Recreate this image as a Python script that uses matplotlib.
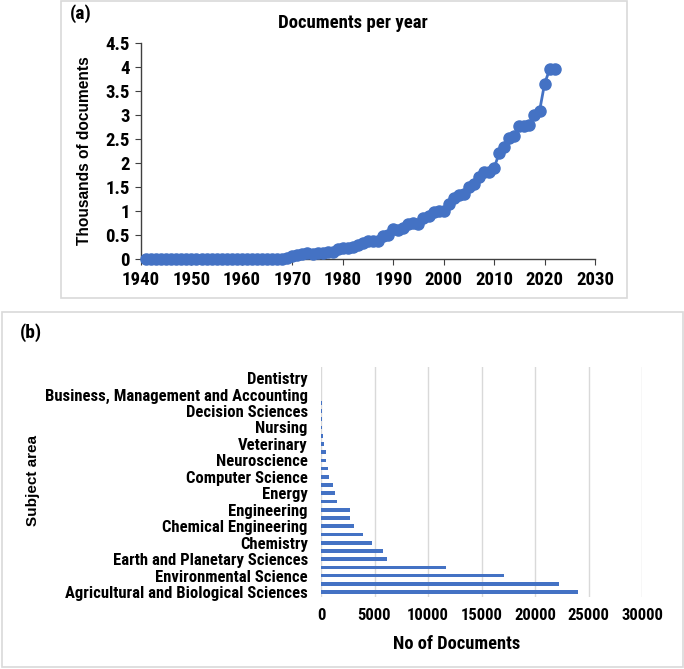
import matplotlib
matplotlib.use("Agg")
import matplotlib.pyplot as plt
from matplotlib.patches import Rectangle
from matplotlib import font_manager
from matplotlib.font_manager import FontProperties

# ---------------- data ----------------
years = list(range(1941, 2023))
docs_thousands = [0.0] * 27 + [  # 1941-1967
    0.01, 0.03, 0.06, 0.09, 0.11, 0.12, 0.10, 0.12, 0.13, 0.14, 0.15,  # 1968-1978
    0.20, 0.22, 0.22, 0.25, 0.30, 0.33, 0.37, 0.38, 0.38, 0.47, 0.50,  # 1979-1989
    0.62, 0.60, 0.65, 0.72, 0.75, 0.73, 0.85, 0.90, 0.97, 1.00, 1.00,  # 1990-2000
    1.15, 1.28, 1.33, 1.35, 1.50, 1.57, 1.70, 1.82, 1.82, 1.90,        # 2001-2010
    2.20, 2.33, 2.53, 2.57, 2.77, 2.77, 2.80, 3.00, 3.08, 3.65, 3.95, 3.95,  # 2011-2022
]
x_ticks_a = [1940, 1950, 1960, 1970, 1980, 1990, 2000, 2010, 2020, 2030]
y_ticks_a = [0, 0.5, 1, 1.5, 2, 2.5, 3, 3.5, 4, 4.5]
y_tick_labels_a = ["0", "0.5", "1", "1.5", "2", "2.5", "3", "3.5", "4", "4.5"]

subject_docs = [24000, 22200, 17100, 11650, 6200, 5800, 4800, 3950, 3100, 2750,
                2700, 1450, 1300, 1100, 750, 650, 500, 500, 250, 160,
                120, 90, 80, 50, 30, 15, 5]
subject_labels = ["Agricultural and Biological Sciences", "Environmental Science",
                  "Earth and Planetary Sciences", "Chemistry", "Chemical Engineering",
                  "Engineering", "Energy", "Computer Science", "Neuroscience",
                  "Veterinary", "Nursing", "Decision Sciences",
                  "Business, Management and Accounting", "Dentistry"]
x_ticks_b = [0, 5000, 10000, 15000, 20000, 25000, 30000]

# ---------------- fonts ----------------
def find_font():
    files = [f.fname for f in font_manager.fontManager.ttflist]
    prefs = ["LiberationSansNarrow-Bold.", "RobotoCondensed-Bold.", "DejaVuSansCondensed-Bold.",
             "OpenSansCondensed-Bold.", "OpenSans_Condensed-Bold."]
    for p in prefs:
        for fn in files:
            if fn.split("/")[-1].startswith(p):
                return fn
    for fn in files:
        base = fn.split("/")[-1].lower()
        if ("condensed" in base or "narrow" in base) and "bold" in base and "italic" not in base:
            return fn
    return None

narrow_file = find_font()

def nfont(size):
    if narrow_file:
        return FontProperties(fname=narrow_file, size=size)
    return FontProperties(family=["Liberation Sans", "DejaVu Sans"], weight="bold", size=size * 0.85)

def wfont(size):
    return FontProperties(family=["Liberation Sans", "DejaVu Sans"], weight="bold", size=size)

blue = "#4472C4"
W, H = 684, 669
fig = plt.figure(figsize=(W / 100, H / 100), dpi=100)

def fx(px):
    return px / W

def fy(py):
    return 1 - py / H

# frames
fig.patches.append(Rectangle((fx(61), fy(298)), fx(627) - fx(61), fy(1) - fy(298),
                             transform=fig.transFigure, fill=False, ec="#D9D9D9", lw=1.2))
fig.patches.append(Rectangle((fx(2), fy(667)), fx(683) - fx(2), fy(312) - fy(667),
                             transform=fig.transFigure, fill=False, ec="#D9D9D9", lw=1.2))

# ---------------- panel (a) ----------------
ax1 = fig.add_axes([fx(141), fy(259), fx(595) - fx(141), fy(43) - fy(259)])
ax1.plot(years, docs_thousands, color=blue, lw=2, marker="o", ms=8, zorder=3, clip_on=False)
ax1.set_xlim(1940, 2030)
ax1.set_ylim(0, 4.5)
ax1.set_xticks(x_ticks_a)
ax1.set_yticks(y_ticks_a)
ax1.set_yticklabels(y_tick_labels_a)
for s in ["top", "right"]:
    ax1.spines[s].set_visible(False)
for s in ["left", "bottom"]:
    ax1.spines[s].set_color("#404040")
    ax1.spines[s].set_linewidth(1)
    ax1.spines[s].set_zorder(2)
ax1.tick_params(axis="both", length=4, color="#404040", direction="out")
ax1.tick_params(axis="x", pad=4.5)
ax1.tick_params(axis="y", pad=4)
for lab in ax1.get_xticklabels() + ax1.get_yticklabels():
    lab.set_fontproperties(nfont(13.5))
ax1.set_ylabel("Thousands of documents", fontproperties=wfont(11.2), labelpad=10)
fig.text(fx(353), fy(23), "Documents per year", ha="center", va="center",
         fontproperties=nfont(13.5))
fig.text(fx(70), fy(14), "(a)", ha="left", va="center", fontproperties=nfont(14))

# ---------------- panel (b) ----------------
ax2 = fig.add_axes([fx(321), fy(597), fx(642) - fx(321), fy(367) - fy(597)])
pos = list(range(len(subject_docs)))
ax2.barh(pos, subject_docs, height=0.45, color=blue, zorder=3)
ax2.set_xlim(0, 30000)
ax2.set_ylim(-0.6, 27.35)
ax2.set_xticks(x_ticks_b)
ax2.set_xticklabels([str(v) for v in x_ticks_b])
ax2.set_yticks(pos[::2])
ax2.set_yticklabels(subject_labels)
for s in ax2.spines.values():
    s.set_visible(False)
ax2.grid(axis="x", color="#D9D9D9", lw=1, zorder=0)
ax2.tick_params(axis="both", length=0)
ax2.tick_params(axis="y", pad=9.5)
ax2.tick_params(axis="x", pad=8)
for lab in ax2.get_xticklabels() + ax2.get_yticklabels():
    lab.set_fontproperties(nfont(12))
fig.text(fx(457), fy(644), "No of Documents", ha="center", va="center",
         fontproperties=nfont(13.3))
fig.text(fx(33), fy(481), "Subject area", rotation=90, ha="center", va="center",
         fontproperties=wfont(11))
fig.text(fx(20), fy(333), "(b)", ha="left", va="center", fontproperties=nfont(14))

fig.savefig("out.png", dpi=100)
